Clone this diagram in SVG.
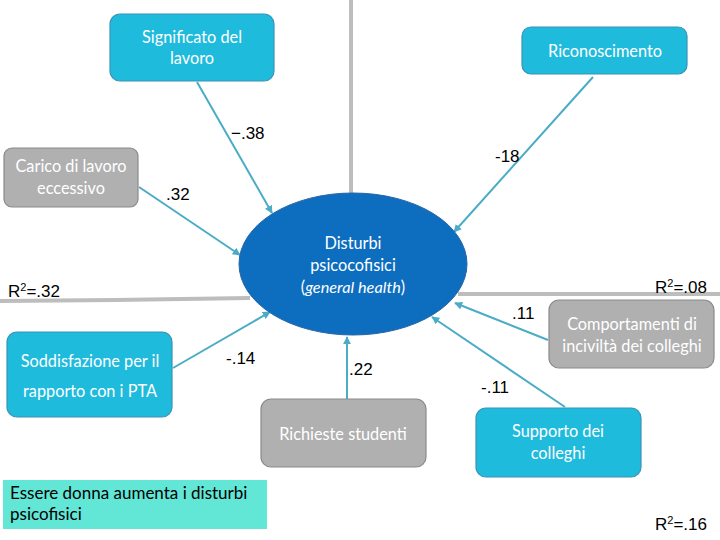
<svg xmlns="http://www.w3.org/2000/svg" width="720" height="540" viewBox="0 0 720 540">
<defs>
<style>
.blue{fill:#1FBBDD;stroke:#3A93B5;stroke-width:1.2}
.gray{fill:#B0B0B0;stroke:#8A8A8A;stroke-width:1.2}
.nt{font-family:Lato,"Open Sans",sans-serif;font-size:16.3px;fill:#fff;text-anchor:middle}
.lbl{font-family:"Liberation Sans",Arial,sans-serif;font-size:17px;fill:#000}
.sup{font-size:11px}
.con{stroke:#4BACC6;stroke-width:2;fill:none;marker-end:url(#ah)}
.sep{stroke:#BDBDBD;stroke-width:4;fill:none}
</style>
<marker id="ah" viewBox="0 0 10 10" refX="9" refY="5" markerWidth="4" markerHeight="4" orient="auto" markerUnits="strokeWidth">
<path d="M0,0 L10,5 L0,10 z" fill="#4BACC6"/>
</marker>
</defs>
<rect width="720" height="540" fill="#fff"/>
<g id="separators">
<line class="sep" x1="351" y1="0" x2="351" y2="194"/>
<polyline class="sep" points="0,301 115,300 250,298"/>
<line class="sep" x1="458" y1="294" x2="720" y2="294"/>
</g>
<g id="connectors">
<line class="con" x1="197" y1="82" x2="272" y2="213"/>
<line class="con" x1="593" y1="77" x2="454" y2="232"/>
<line class="con" x1="139" y1="187" x2="240" y2="255"/>
<line class="con" x1="173" y1="368" x2="270" y2="312"/>
<line class="con" x1="347" y1="399" x2="347" y2="337"/>
<line class="con" x1="548" y1="340" x2="455" y2="303"/>
<line class="con" x1="565" y1="407" x2="432" y2="317"/>
</g>
<g id="node-disturbi">
<ellipse cx="353" cy="264" rx="114" ry="71" fill="#0D6DBF" stroke="#2A66A8" stroke-width="1"/>
<text class="nt" x="353" y="249">Disturbi</text>
<text class="nt" x="353" y="271">psicocofisici</text>
<text class="nt" x="353" y="293">(<tspan font-style="italic">general health</tspan>)</text>
</g>
<g id="node-significato">
<rect class="blue" x="110" y="14" width="164" height="67" rx="10"/>
<text class="nt" x="192" y="43">Significato del</text>
<text class="nt" x="192" y="64">lavoro</text>
</g>
<g id="node-riconoscimento">
<rect class="blue" x="522" y="27" width="165" height="47" rx="9"/>
<text class="nt" x="605" y="57">Riconoscimento</text>
</g>
<g id="node-carico">
<rect class="gray" x="4" y="148" width="134" height="59" rx="8"/>
<text class="nt" x="71" y="172">Carico di lavoro</text>
<text class="nt" x="71" y="194">eccessivo</text>
</g>
<g id="node-soddisfazione">
<rect class="blue" x="7" y="332" width="165" height="85" rx="10"/>
<text class="nt" x="90" y="367">Soddisfazione per il</text>
<text class="nt" x="90" y="397">rapporto con i PTA</text>
</g>
<g id="node-richieste">
<rect class="gray" x="261" y="399" width="165" height="68" rx="10"/>
<text class="nt" x="343" y="440">Richieste studenti</text>
</g>
<g id="node-comportamenti">
<rect class="gray" x="549" y="300" width="165" height="68" rx="10"/>
<text class="nt" x="632" y="330">Comportamenti di</text>
<text class="nt" x="632" y="352">inciviltà dei colleghi</text>
</g>
<g id="node-supporto">
<rect class="blue" x="476" y="408" width="165" height="69" rx="10"/>
<text class="nt" x="558" y="437">Supporto dei</text>
<text class="nt" x="558" y="459">colleghi</text>
</g>
<g id="note">
<rect x="3" y="480" width="264" height="49" fill="#62E6D6"/>
<text font-family="Lato,'Open Sans',sans-serif" font-size="17" fill="#000" x="10" y="499">Essere donna aumenta i disturbi</text>
<text font-family="Lato,'Open Sans',sans-serif" font-size="17" fill="#000" x="10" y="520">psicofisici</text>
</g>
<g id="labels">
<text class="lbl" x="231" y="139">−.38</text>
<text class="lbl" x="495" y="162">-18</text>
<text class="lbl" x="166" y="200">.32</text>
<text class="lbl" x="8" y="297">R<tspan class="sup" dy="-6">2</tspan><tspan dy="6">=.32</tspan></text>
<text class="lbl" x="226" y="364">-.14</text>
<text class="lbl" x="349" y="375">.22</text>
<text class="lbl" x="655" y="293">R<tspan class="sup" dy="-6">2</tspan><tspan dy="6">=.08</tspan></text>
<text class="lbl" x="512" y="319">.11</text>
<text class="lbl" x="481" y="393">-.11</text>
<text class="lbl" x="655" y="530">R<tspan class="sup" dy="-6">2</tspan><tspan dy="6">=.16</tspan></text>
</g>
</svg>
